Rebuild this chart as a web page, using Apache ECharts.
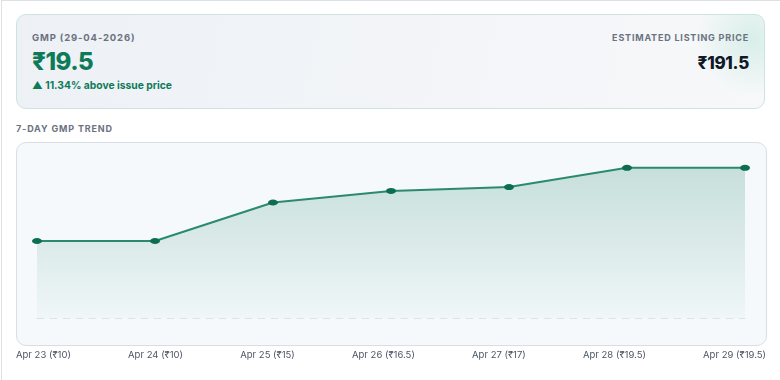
<!DOCTYPE html>
<html><head><meta charset="utf-8">
<script src="https://cdn.jsdelivr.net/npm/echarts@6/dist/echarts.min.js"></script>
<style>
html,body{margin:0;padding:0;width:780px;height:380px;overflow:hidden;background:#fff;font-family:Inter,"Noto Sans",sans-serif;}
#frame{position:absolute;left:1px;top:0;width:900px;height:500px;border-left:1px solid #dde1e6;border-top:1px solid #dde1e6;}
#card{position:absolute;left:16px;top:14px;width:749px;height:95px;border:1px solid #cde3de;border-radius:10px;box-sizing:border-box;
 background:radial-gradient(circle at 735px 25px, rgba(60,190,140,0.16) 0px, rgba(60,190,140,0.0) 55px), linear-gradient(100deg,#edf1f6 0%,#f3f5f8 60%,#f6f8fa 100%);}
.lbl{position:absolute;font-size:9.5px;font-weight:700;letter-spacing:0.85px;color:#6b7280;}
#gmpL{left:15px;top:17px;}
#gmpV{position:absolute;left:15px;top:32px;font-size:24px;font-weight:800;color:#0e7a58;letter-spacing:-0.5px;}
#gmpP{position:absolute;left:15px;top:64px;font-size:10.3px;font-weight:700;color:#0e7a58;}
#estL{right:15px;top:17px;font-size:9px;letter-spacing:0.8px;}
#estV{position:absolute;right:15px;top:38px;font-size:17px;font-weight:800;color:#111827;letter-spacing:-0.3px;}
#trend{left:16px;top:123px;font-size:9px;}
#panel{position:absolute;left:16px;top:142px;width:751px;height:204px;border:1px solid #d9dee4;border-radius:10px;box-sizing:border-box;background:#f5f9fc;}
#chart{position:absolute;left:0;top:0;width:780px;height:380px;}
</style></head>
<body>
<div id="frame"></div>
<div id="card">
  <div class="lbl" id="gmpL">GMP (29-04-2026)</div>
  <div id="gmpV">₹19.5</div>
  <div id="gmpP">▲ 11.34% above issue price</div>
  <div class="lbl" id="estL">ESTIMATED LISTING PRICE</div>
  <div id="estV">₹191.5</div>
</div>
<div class="lbl" id="trend">7-DAY GMP TREND</div>
<div id="panel"></div>
<div id="chart"></div>
<script>
var dates = ['Apr 23','Apr 24','Apr 25','Apr 26','Apr 27','Apr 28','Apr 29'];
var gmp = [10, 10, 15, 16.5, 17, 19.5, 19.5];
var categories = dates.map(function(d,i){ return d + ' (₹' + gmp[i] + ')'; });

// layout: labels spread "space-between" across the panel width (like the original HTML row)
var GRID_L = 37, GRID_R = 35, W = 780, ROW_L = 16, ROW_R = 766;
var FONT = '9.5px Inter, "Noto Sans", sans-serif';
var cv = document.createElement('canvas').getContext('2d');
cv.font = FONT;
var widths = categories.map(function(c){ return cv.measureText(c).width; });
var sumW = widths.reduce(function(a,b){return a+b;},0);
var gap = (ROW_R - ROW_L - sumW) / (categories.length - 1);
var step = (W - GRID_L - GRID_R) / (categories.length - 1);
var rich = {};
var acc = ROW_L;
widths.forEach(function(w,i){
  var center = acc + w/2;
  var off = center - (GRID_L + i*step);
  rich['p'+i] = {fontSize:9.5,color:'#4b5563',fontFamily:'Inter, "Noto Sans", sans-serif',
    padding: off >= 0 ? [0,0,0,2*off] : [0,-2*off,0,0]};
  acc += w + gap;
});

var chart = echarts.init(document.getElementById('chart'), null, {renderer:'canvas'});
chart.setOption({
  backgroundColor:'transparent',
  animation:false,
  grid:{left:GRID_L,right:GRID_R,top:164,bottom:62},
  xAxis:{
    type:'category',
    data:categories,
    boundaryGap:false,
    axisTick:{show:false},
    axisLine:{show:true,lineStyle:{color:'#dde3e9',type:[7,6],width:1}},
    axisLabel:{margin:32,fontSize:9.5,color:'#4b5563',fontFamily:'Inter, "Noto Sans", sans-serif',interval:0,
      formatter:function(v,i){ return '{p'+i+'|'+v+'}'; }, rich:rich}
  },
  yAxis:{
    type:'value',min:0,max:20,show:false,
    splitLine:{show:false}
  },
  series:[{
    type:'line',
    data:gmp,
    symbol:'circle',
    symbolSize:[10,6],
    itemStyle:{color:'#0b6e4f'},
    lineStyle:{color:'#2a8a6a',width:2},
    areaStyle:{color:new echarts.graphic.LinearGradient(0,0,0,1,[
      {offset:0,color:'rgba(26,127,94,0.3)'},
      {offset:1,color:'rgba(26,127,94,0.03)'}
    ])}
  }]
});
</script>
</body></html>
